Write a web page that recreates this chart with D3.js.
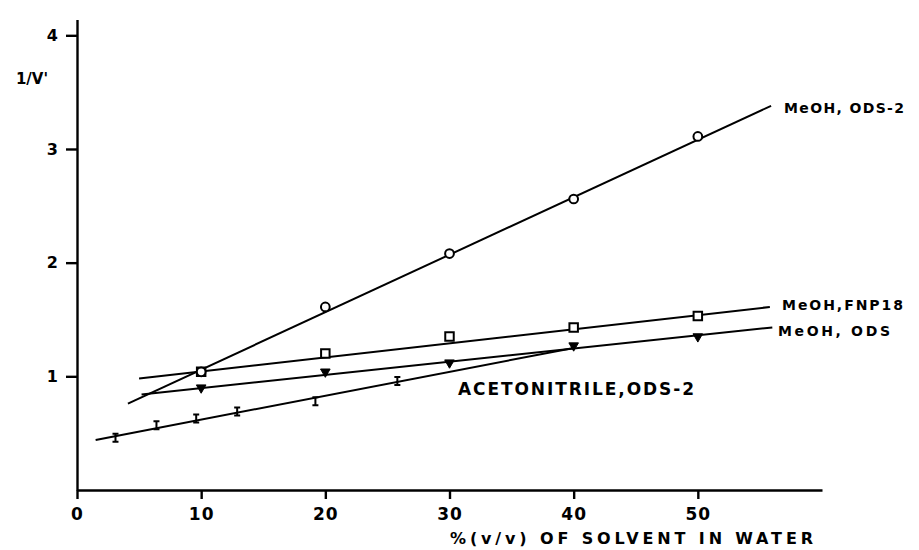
<!DOCTYPE html>
<html>
<head>
<meta charset="UTF-8">
<title>1/V' vs % solvent in water</title>
<style>

    body {
        margin: 0;
        background: #ffffff;
    }

    svg {
        display: block;
    }

    .axis path,
    .axis line {
        stroke: #000000;
        stroke-width: 2.4;
    }

    .axis text {
        font-family: "DejaVu Sans", sans-serif;
        font-weight: bold;
        fill: #000000;
    }

    path.fit {
        fill: none;
        stroke: #000000;
        stroke-width: 2;
    }

    path.marker.open {
        fill: #ffffff;
        stroke: #000000;
        stroke-width: 2;
    }

    path.marker.filled {
        fill: #000000;
        stroke: #000000;
        stroke-width: 1;
    }

    path.marker.ibeam {
        fill: none;
        stroke: #000000;
        stroke-width: 2;
    }

    text.label {
        font-family: "DejaVu Sans", sans-serif;
        font-weight: bold;
        fill: #000000;
    }

</style>
</head>
<body>
<script src="https://cdnjs.cloudflare.com/ajax/libs/d3/7.8.5/d3.min.js"></script>
<script>

    // % (v/v) of solvent and 1/V' readings for the methanol systems
    var meohX = [10, 20, 30, 40, 50];
    var ods2Y = [1.04, 1.61, 2.08, 2.56, 3.11];
    var fnp18Y = [1.04, 1.20, 1.35, 1.43, 1.53];
    var odsY = [0.90, 1.04, 1.12, 1.27, 1.35];

    // acetonitrile on ODS-2
    var acnX = [3.1, 6.4, 9.6, 12.9, 19.2, 25.8];
    var acnY = [0.46, 0.57, 0.63, 0.69, 0.78, 0.96];

    // hand drawn fit lines, start and end
    var ods2FitX = [4.1, 55.9],  ods2FitY = [0.76, 3.38];
    var fnp18FitX = [5.0, 55.8], fnp18FitY = [0.98, 1.61];
    var odsFitX = [5.2, 56.0],   odsFitY = [0.84, 1.43];
    var acnFitX = [1.5, 40.0],   acnFitY = [0.44, 1.25];

    var xTicks = [0, 10, 20, 30, 40, 50];
    var yTicks = [1, 2, 3, 4];

    var lineNames = ["MeOH, ODS-2", "MeOH,FNP18", "MeOH, ODS", "ACETONITRILE,ODS-2"];
    var yTitle = "1/V'";
    var xTitle = "%(v/v) OF SOLVENT IN WATER";

    function chart(fullWidth, fullHeight) {
        var x = d3.scaleLinear()
                .domain([0, 60])
                .range([77, 822]);

        var y = d3.scaleLinear()
                .domain([0, 4.14])
                .range([490, 19.4]);

        var svg = d3.select("body").append("svg")
                .attr("width", fullWidth)
                .attr("height", fullHeight);

        var xAxis = d3.axisBottom(x)
                .tickValues(xTicks)
                .tickFormat(d3.format("d"))
                .tickSize(9)
                .tickSizeOuter(0)
                .tickPadding(9);

        var yAxis = d3.axisLeft(y)
                .tickValues(yTicks)
                .tickFormat(d3.format("d"))
                .tickSize(11)
                .tickSizeOuter(0)
                .tickPadding(8);

        svg.append("g")
                .attr("class", "x axis")
                .attr("transform", "translate(0," + y(0) + ")")
                .call(xAxis)
                .selectAll("text")
                .style("font-size", "17px")
                .style("letter-spacing", "1px");

        svg.append("g")
                .attr("class", "y axis")
                .attr("transform", "translate(" + x(0) + ",0)")
                .call(yAxis)
                .selectAll("text")
                .style("font-size", "16px");

        var line = d3.line()
                .x(function (d) { return x(d[0]); })
                .y(function (d) { return y(d[1]); });

        function pairs(xs, ys) {
            return xs.map(function (v, i) { return [v, ys[i]]; });
        }

        [[ods2FitX, ods2FitY], [fnp18FitX, fnp18FitY], [odsFitX, odsFitY], [acnFitX, acnFitY]]
                .forEach(function (f) {
                    svg.append("path")
                            .attr("class", "fit")
                            .attr("d", line(pairs(f[0], f[1])));
                });

        // I shaped marker used for the acetonitrile points
        function ibeam() {
            var p = d3.path();
            p.moveTo(-3, -4); p.lineTo(3, -4);
            p.moveTo(0, -4);  p.lineTo(0, 4);
            p.moveTo(-3, 4);  p.lineTo(3, 4);
            return p.toString();
        }

        function markers(xs, ys, cls, d, rot) {
            svg.append("g").selectAll("path")
                    .data(pairs(xs, ys))
                    .join("path")
                    .attr("class", "marker " + cls)
                    .attr("d", d)
                    .attr("transform", function (p) {
                        return "translate(" + x(p[0]) + "," + y(p[1]) + ")" + (rot ? " rotate(" + rot + ")" : "");
                    });
        }

        markers(meohX, fnp18Y, "open", d3.symbol().type(d3.symbolSquare).size(72)());
        markers(meohX, ods2Y, "open", d3.symbol().type(d3.symbolCircle).size(60)());
        markers(meohX, odsY, "filled", d3.symbol().type(d3.symbolTriangle).size(40)(), 180);
        markers(acnX, acnY, "ibeam", ibeam());

        // line names, written at the end of each line
        svg.append("text")
                .attr("class", "label")
                .attr("x", 784).attr("y", 113)
                .attr("textLength", 120).attr("lengthAdjust", "spacing")
                .style("font-size", "14px")
                .text(lineNames[0]);

        svg.append("text")
                .attr("class", "label")
                .attr("x", 782).attr("y", 310)
                .attr("textLength", 121).attr("lengthAdjust", "spacing")
                .style("font-size", "14px")
                .text(lineNames[1]);

        svg.append("text")
                .attr("class", "label")
                .attr("x", 778).attr("y", 336)
                .attr("textLength", 112).attr("lengthAdjust", "spacing")
                .style("font-size", "14px")
                .text(lineNames[2]);

        svg.append("text")
                .attr("class", "label")
                .attr("x", 458).attr("y", 395)
                .attr("textLength", 236).attr("lengthAdjust", "spacing")
                .style("font-size", "17px")
                .text(lineNames[3]);

        svg.append("text")
                .attr("class", "label")
                .attr("x", 450).attr("y", 544)
                .attr("textLength", 363).attr("lengthAdjust", "spacing")
                .style("font-size", "16px")
                .text(xTitle);

        svg.append("text")
                .attr("class", "label")
                .attr("x", 48).attr("y", 84)
                .attr("text-anchor", "end")
                .style("font-size", "15px")
                .text(yTitle);
    }

    chart(919, 550);
</script>
</body>
</html>
